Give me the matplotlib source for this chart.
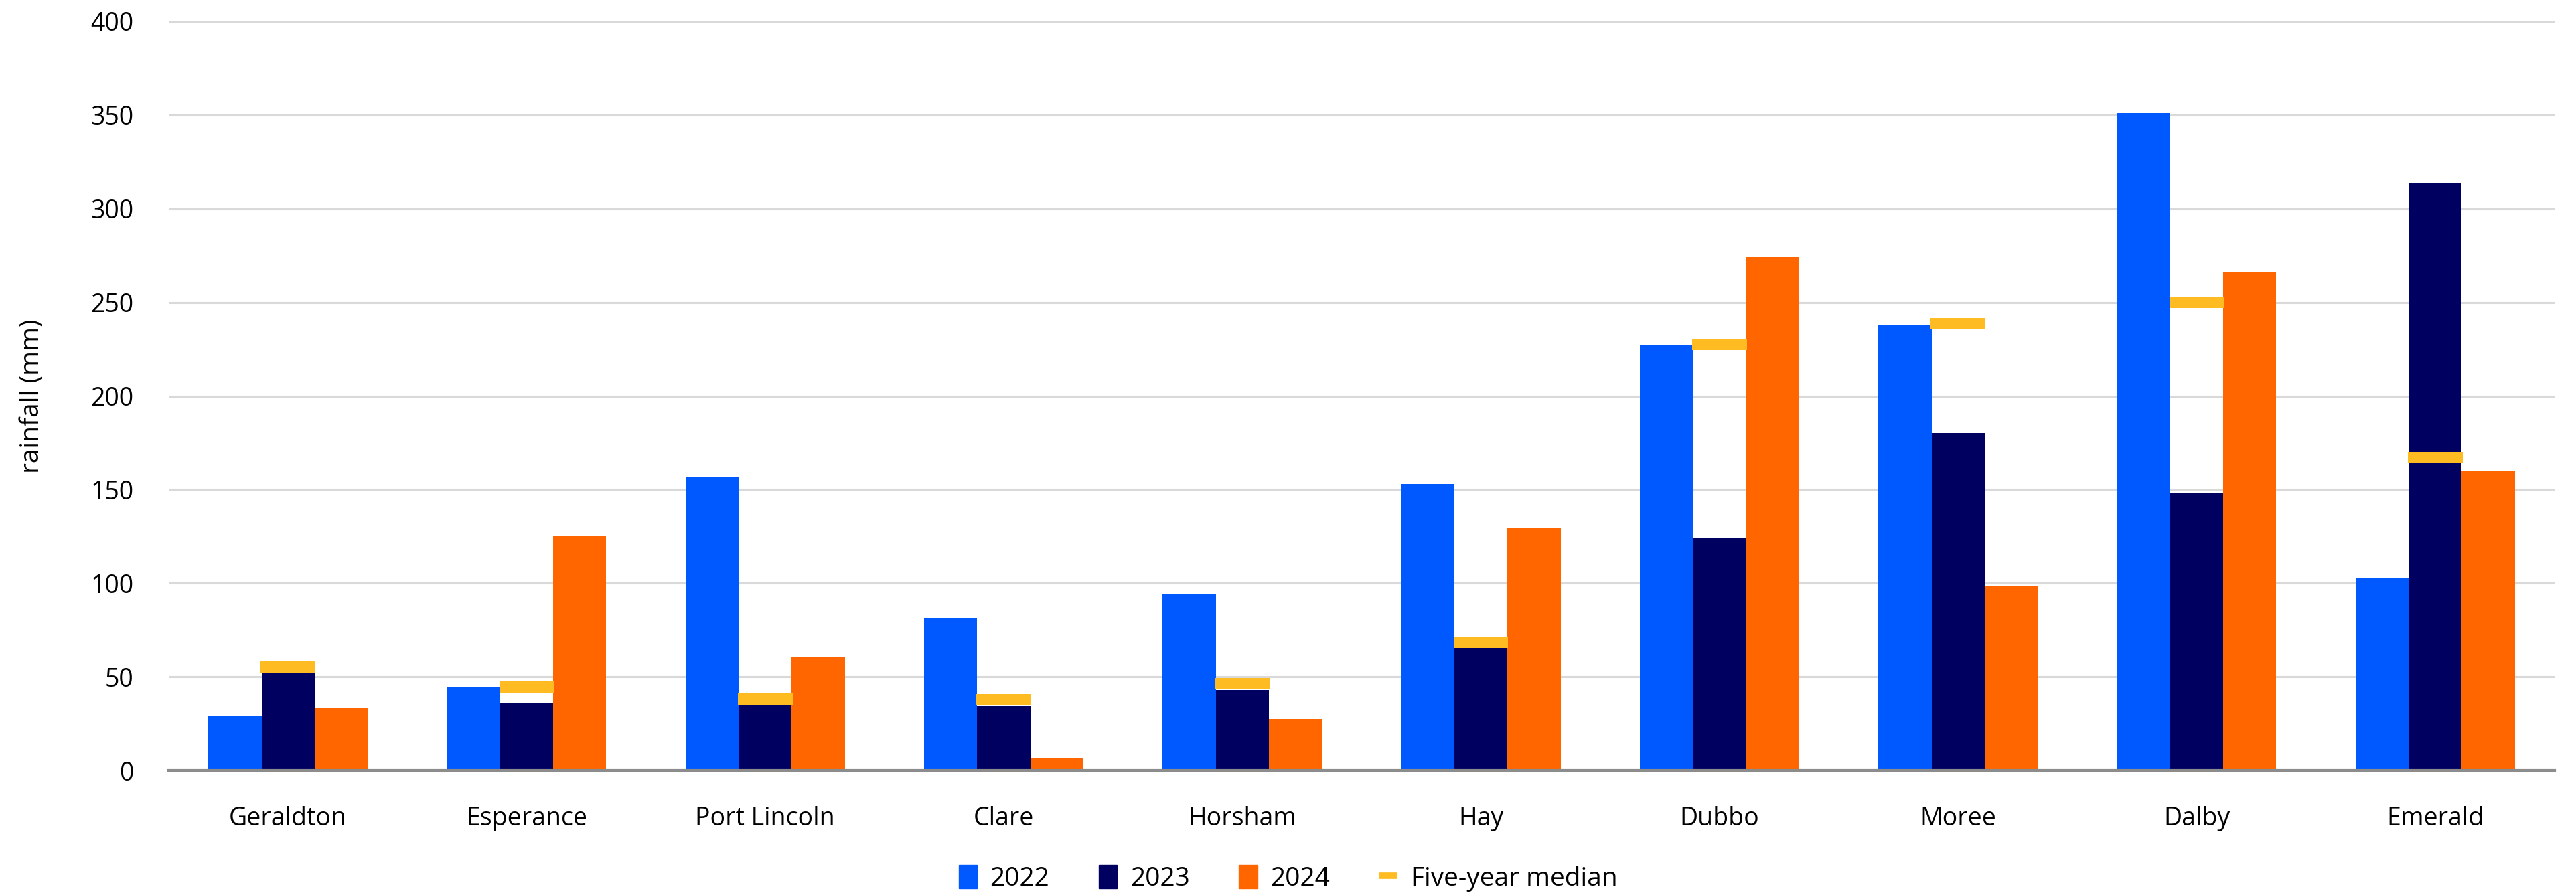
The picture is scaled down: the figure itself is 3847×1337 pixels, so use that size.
import matplotlib
matplotlib.use("Agg")
import matplotlib.pyplot as plt
from matplotlib.patches import Patch
from matplotlib.lines import Line2D
import numpy as np

plt.rcParams['font.family'] = ['Open Sans', 'DejaVu Sans']

categories = ["Geraldton", "Esperance", "Port Lincoln", "Clare", "Horsham",
              "Hay", "Dubbo", "Moree", "Dalby", "Emerald"]
y2022 = [29.3, 44.4, 157, 81.4, 94, 152.9, 227, 238, 351, 103]
y2023 = [51.8, 36.2, 35.3, 34.8, 42.9, 65.4, 124.5, 180.3, 148.4, 313.5]
y2024 = [33.4, 125, 60.3, 6.5, 27.6, 129.4, 274, 98.5, 266, 160]
median5 = [55, 44.5, 38.3, 38, 46.2, 68.5, 227.5, 238.5, 250, 167]
yticks = [0, 50, 100, 150, 200, 250, 300, 350, 400]

c2022 = "#0058FF"
c2023 = "#000060"
c2024 = "#FF6600"
cmed = "#FFBB22"

W, H = 3847, 1337
fig = plt.figure(figsize=(W / 100, H / 100), dpi=100)
ax = fig.add_axes([252 / W, 1 - 1151 / H, (3815 - 252) / W, (1151 - 32) / H])

x = np.arange(len(categories))
bw = 0.2225
ax.bar(x - bw, y2022, bw, color=c2022, zorder=3)
ax.bar(x, y2023, bw, color=c2023, zorder=3)
ax.bar(x + bw, y2024, bw, color=c2024, zorder=3)
th = 6.2
ax.bar(x, [th] * len(x), bw * 1.03, bottom=np.array(median5) - th / 2,
       color=cmed, zorder=4)

ax.set_xlim(-0.5, len(categories) - 0.5)
ax.set_ylim(0, 400)
ax.set_yticks(yticks)
ax.set_yticklabels([str(t) for t in yticks], fontsize=27)
ax.set_xticks(x)
ax.set_xticklabels(categories, fontsize=27)
ax.tick_params(axis='both', length=0)
ax.tick_params(axis='y', pad=38)
ax.tick_params(axis='x', pad=38)
ax.yaxis.grid(True, color="#D9D9D9", linewidth=2.2, zorder=0)
ax.set_axisbelow(True)
for s in ["top", "right", "left"]:
    ax.spines[s].set_visible(False)
ax.spines["bottom"].set_color("#8C8C8C")
ax.spines["bottom"].set_linewidth(3)
ax.spines["bottom"].set_zorder(5)

ax.set_ylabel("rainfall (mm)", fontsize=28)
ax.yaxis.set_label_coords(-(252 - 68) / (3815 - 252), 0.5)

handles = [Patch(color=c2022), Patch(color=c2023), Patch(color=c2024),
           Line2D([], [], color=cmed, lw=7, solid_capstyle='butt')]
labels = ["2022", "2023", "2024", "Five-year median"]
fig.legend(handles, labels, loc="center", bbox_to_anchor=(0.5, 1 - 1312 / H),
           ncol=4, frameon=False, fontsize=28, handlelength=0.7,
           handleheight=1.0, handletextpad=0.5, columnspacing=1.9)

fig.savefig("out.png", dpi=100, facecolor="white")
